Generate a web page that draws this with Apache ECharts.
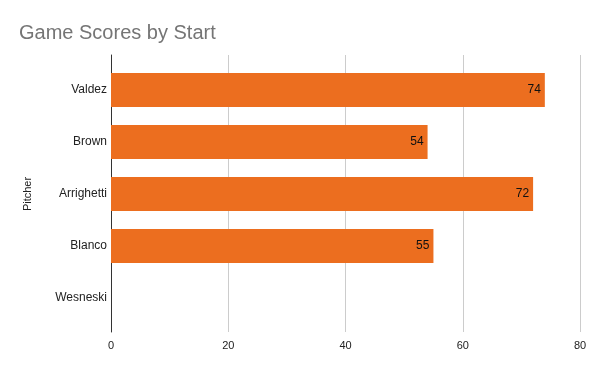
<!DOCTYPE html>
<html><head><meta charset="utf-8">
<script src="https://cdn.jsdelivr.net/npm/echarts@6/dist/echarts.min.js"></script>
<style>html,body{margin:0;padding:0;background:#fff}#c{width:600px;height:371px}</style>
</head><body><div id="c"></div>
<script>
const categories = ["Valdez", "Brown", "Arrighetti", "Blanco", "Wesneski"];
const scores = [74, 54, 72, 55, null];
const xTicks = [0, 20, 40, 60, 80];

const chart = echarts.init(document.getElementById('c'), null, {renderer: 'canvas'});
const font = 'Arial, "Liberation Sans", sans-serif';
chart.setOption({
  animation: false,
  title: {text: 'Game Scores by Start', left: 14, top: 18,
    textStyle: {fontFamily: font, fontSize: 20, fontWeight: 'normal', color: '#757575'}},
  grid: [
    {left: 111, right: 20, top: 55, bottom: 39},
    {left: 111, right: 20, top: 64, bottom: 47}
  ],
  xAxis: [
    {type: 'value', gridIndex: 0, min: xTicks[0], max: xTicks[xTicks.length-1], interval: 20,
      axisLine: {show: false}, axisTick: {show: false},
      axisLabel: {margin: 8, color: '#222', fontFamily: font, fontSize: 11},
      splitLine: {lineStyle: {color: '#cccccc'}}},
    {type: 'value', gridIndex: 1, min: xTicks[0], max: xTicks[xTicks.length-1], show: false}
  ],
  yAxis: [
    {type: 'value', gridIndex: 0, min: 0, max: 1, axisLabel: {show: false}, splitLine: {show: false},
      axisTick: {show: false}, axisLine: {show: true, lineStyle: {color: '#333', width: 1}}},
    {type: 'category', gridIndex: 1, data: categories, inverse: true,
      axisLine: {show: false}, axisTick: {show: false},
      axisLabel: {margin: 4, color: '#222', fontFamily: font, fontSize: 12, padding: [6, 0, 0, 0]},
      name: 'Pitcher', nameLocation: 'middle', nameGap: 78, nameRotate: 90,
      nameTextStyle: {color: '#222', fontFamily: font, fontSize: 11}}
  ],
  series: [{
    type: 'bar', xAxisIndex: 1, yAxisIndex: 1, data: scores, barWidth: 34,
    itemStyle: {color: '#EC6E1F'},
    label: {show: true, position: 'insideRight', distance: 4, color: '#111', fontFamily: font, fontSize: 12, padding: [5, 0, 0, 0]}
  }]
});
</script></body></html>
